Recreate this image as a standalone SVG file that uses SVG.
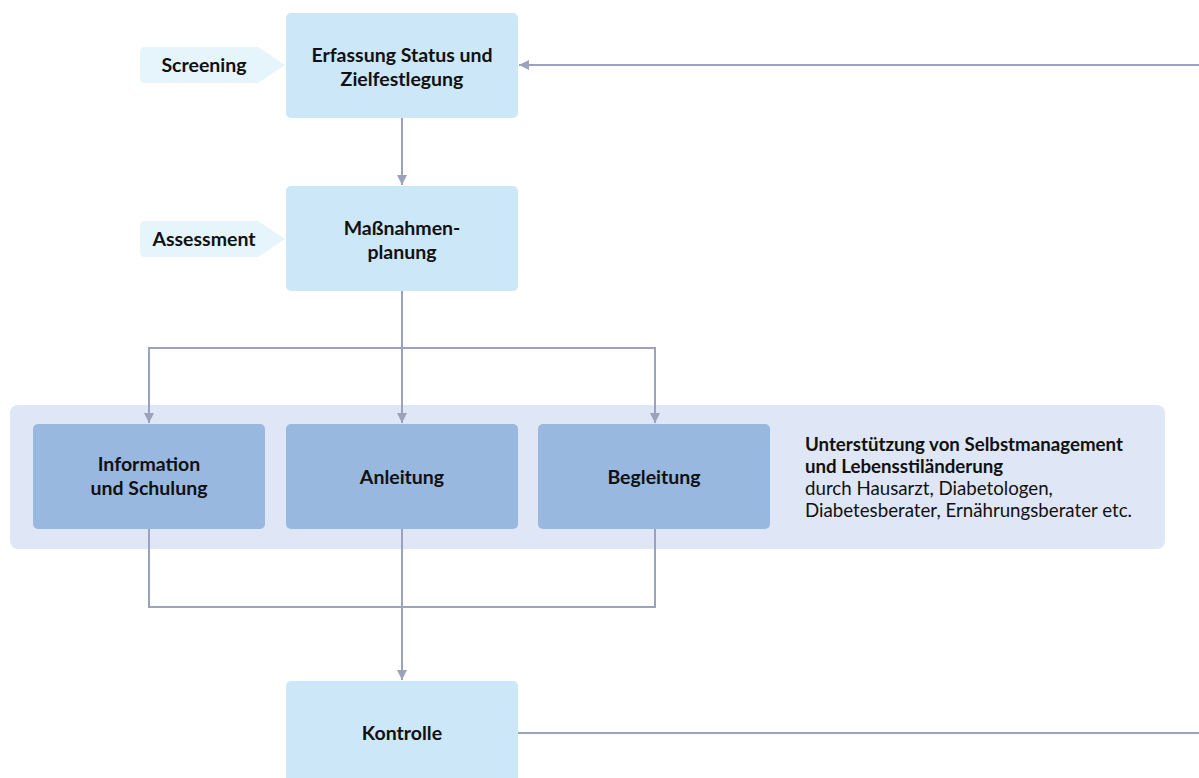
<svg xmlns="http://www.w3.org/2000/svg" width="1199" height="778" viewBox="0 0 1199 778">
<style>
.light{fill:#cce7f8;}
.dark{fill:#99b8e0;}
.tag{fill:#e6f4fc;}
.panel{fill:#dfe6f5;}
.t{font-family:Lato,"Open Sans",sans-serif;font-weight:bold;font-size:19.5px;fill:#111;text-anchor:middle;}
.s{font-family:Lato,"Open Sans",sans-serif;font-size:18.7px;fill:#111;}
.c{fill:none;stroke:#9aa3bb;stroke-width:2;}
</style>
<defs>
<marker id="ah" viewBox="0 0 10 10" refX="10" refY="5" markerWidth="5" markerHeight="5" orient="auto" markerUnits="strokeWidth">
<path d="M0,0 L10,5 L0,10 z" fill="#9aa3bb"/>
</marker>
</defs>
<rect width="1199" height="778" fill="#fff"/>
<g id="panel"><rect class="panel" x="10" y="405" width="1155" height="144" rx="8"/></g>
<g id="connectors">
<path class="c" d="M1199,65 H519" marker-end="url(#ah)"/>
<path class="c" d="M402,118 V185" marker-end="url(#ah)"/>
<path class="c" d="M402,291 V423" marker-end="url(#ah)"/>
<path class="c" d="M149,423 V348 H655 V423" marker-end="url(#ah)"/>
<path class="c" d="M149,348 V423" marker-end="url(#ah)"/>
<path class="c" d="M149,529 V607 H655 V529"/>
<path class="c" d="M402,529 V680" marker-end="url(#ah)"/>
<path class="c" d="M518,733 H1199"/>
</g>
<g id="screening"><path class="tag" d="M145,47 H258 L285,65 L258,83 H145 Q140,83 140,78 V52 Q140,47 145,47 Z"/><text class="t" x="204" y="72">Screening</text></g>
<g id="erfassung"><rect class="light" x="286" y="13" width="232" height="105" rx="5"/><text class="t" x="402" y="62">Erfassung Status und</text><text class="t" x="402" y="86">Zielfestlegung</text></g>
<g id="assessment"><path class="tag" d="M145,221 H258 L285,239 L258,257 H145 Q140,257 140,252 V226 Q140,221 145,221 Z"/><text class="t" x="204" y="246">Assessment</text></g>
<g id="massnahmen"><rect class="light" x="286" y="186" width="232" height="105" rx="5"/><text class="t" x="402" y="235">Maßnahmen-</text><text class="t" x="402" y="259">planung</text></g>
<g id="information"><rect class="dark" x="33" y="424" width="232" height="105" rx="5"/><text class="t" x="149" y="471">Information</text><text class="t" x="149" y="495">und Schulung</text></g>
<g id="anleitung"><rect class="dark" x="286" y="424" width="232" height="105" rx="5"/><text class="t" x="402" y="484">Anleitung</text></g>
<g id="begleitung"><rect class="dark" x="538" y="424" width="232" height="105" rx="5"/><text class="t" x="654" y="484">Begleitung</text></g>
<g id="beschreibung">
<text class="s" x="805" y="451" font-weight="bold">Unterstützung von Selbstmanagement</text>
<text class="s" x="805" y="473" font-weight="bold">und Lebensstiländerung</text>
<text class="s" x="805" y="495">durch Hausarzt, Diabetologen,</text>
<text class="s" x="805" y="517">Diabetesberater, Ernährungsberater etc.</text>
</g>
<g id="kontrolle"><rect class="light" x="286" y="681" width="232" height="105" rx="5"/><text class="t" x="402" y="740">Kontrolle</text></g>
</svg>
